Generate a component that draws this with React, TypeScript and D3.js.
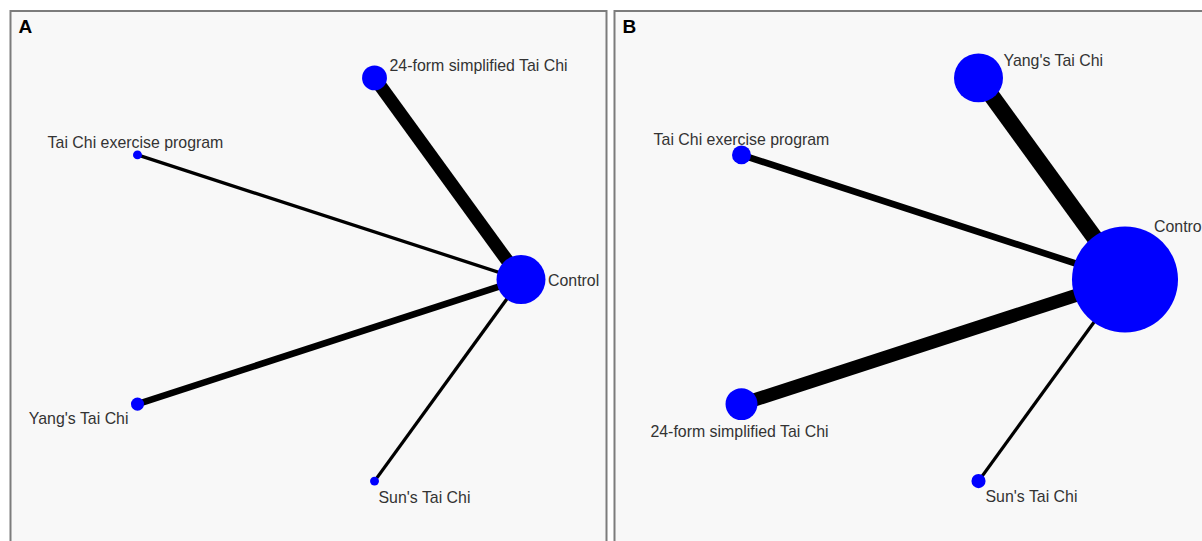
import React from 'react';
import * as d3 from 'd3';

// Network A: treatments in circular order (starting at 3 o'clock, counter-clockwise)
const treatmentsA = [
  'Control',
  '24-form simplified Tai Chi',
  'Tai Chi exercise program',
  "Yang's Tai Chi",
  "Sun's Tai Chi",
];
// Participants per treatment (node area)
const participantsA = [240, 62, 8, 17, 8];
// Direct comparisons and number of studies (edge thickness)
const comparisonsA: [string, string][] = [
  ['Control', '24-form simplified Tai Chi'],
  ['Control', 'Tai Chi exercise program'],
  ['Control', "Yang's Tai Chi"],
  ['Control', "Sun's Tai Chi"],
];
const studiesA = [4, 1, 2, 1];

// Network B
const treatmentsB = [
  'Control',
  "Yang's Tai Chi",
  'Tai Chi exercise program',
  '24-form simplified Tai Chi',
  "Sun's Tai Chi",
];
const participantsB = [1124, 240, 36, 102, 20];
const comparisonsB: [string, string][] = [
  ['Control', "Yang's Tai Chi"],
  ['Control', 'Tai Chi exercise program'],
  ['Control', '24-form simplified Tai Chi'],
  ['Control', "Sun's Tai Chi"],
];
const studiesB = [5, 2, 4, 1];

const panelLetters = ['A', 'B'];

// Label offsets from node centre, per panel
type Place = { dx: number; dy: number; anchor: 'start' | 'middle' | 'end' };
const labelPlacementA: Record<string, Place> = {
  'Control': { dx: 27, dy: 6, anchor: 'start' },
  '24-form simplified Tai Chi': { dx: 15, dy: -7, anchor: 'start' },
  'Tai Chi exercise program': { dx: -2, dy: -7, anchor: 'middle' },
  "Yang's Tai Chi": { dx: -9, dy: 20, anchor: 'end' },
  "Sun's Tai Chi": { dx: 4, dy: 22, anchor: 'start' },
};
const labelPlacementB: Record<string, Place> = {
  'Control': { dx: 29, dy: -48, anchor: 'start' },
  "Yang's Tai Chi": { dx: 25, dy: -12, anchor: 'start' },
  'Tai Chi exercise program': { dx: 0, dy: -10, anchor: 'middle' },
  '24-form simplified Tai Chi': { dx: -2, dy: 33, anchor: 'middle' },
  "Sun's Tai Chi": { dx: 7, dy: 21, anchor: 'start' },
};

const W = 1202;
const H = 541;
const FONT = '"Liberation Sans", Arial, Helvetica, sans-serif';

const radius = d3.scaleSqrt().domain([0, 1124]).range([0, 53]);
const thickness = d3.scaleLinear().domain([0, 1]).range([0, 3.3]);

type PanelProps = {
  x0: number;
  letter: string;
  treatments: string[];
  participants: number[];
  comparisons: [string, string][];
  studies: number[];
  placement: Record<string, Place>;
};

function NetworkPanel({ x0, letter, treatments, participants, comparisons, studies, placement }: PanelProps) {
  const panelW = 596;
  const panelH = 540;
  const top = 11;
  const cx = x0 + panelW / 2 + 0.5;
  const cy = 279.5;
  const R = 212;
  const xs = d3.scaleLinear().domain([-1, 1]).range([cx - R, cx + R]);
  const ys = d3.scaleLinear().domain([-1, 1]).range([cy + R, cy - R]);
  const n = treatments.length;
  const pos = new Map<string, [number, number]>();
  treatments.forEach((t, i) => {
    const a = (2 * Math.PI * i) / n;
    pos.set(t, [xs(Math.cos(a)), ys(Math.sin(a))]);
  });

  return (
    <g>
      <rect x={x0} y={top} width={panelW} height={panelH} fill="#f8f8f8" stroke="#7c7c7c" strokeWidth={2} />
      <text x={x0 + 8} y={top + 22} fontFamily={FONT} fontWeight="bold" fontSize={19} fill="#000">
        {letter}
      </text>
      {comparisons.map(([a, b], i) => {
        const p = pos.get(a)!;
        const q = pos.get(b)!;
        return (
          <line key={i} x1={p[0]} y1={p[1]} x2={q[0]} y2={q[1]} stroke="#000" strokeWidth={thickness(studies[i])} />
        );
      })}
      {treatments.map((t, i) => {
        const p = pos.get(t)!;
        return <circle key={t} cx={p[0]} cy={p[1]} r={radius(participants[i])} fill="#0000ff" />;
      })}
      {treatments.map((t) => {
        const p = pos.get(t)!;
        const pl = placement[t];
        return (
          <text
            key={'l' + t}
            x={p[0] + pl.dx}
            y={p[1] + pl.dy}
            textAnchor={pl.anchor}
            fontFamily={FONT}
            fontSize={15.9}
            fill="#333"
          >
            {t}
          </text>
        );
      })}
    </g>
  );
}

export default function App() {
  return (
    <svg
      width={W}
      height={H}
      viewBox={`0 0 ${W} ${H}`}
      style={{ position: 'absolute', left: 0, top: 0, display: 'block', background: '#fff' }}
    >
      <NetworkPanel
        x0={10.5}
        letter={panelLetters[0]}
        treatments={treatmentsA}
        participants={participantsA}
        comparisons={comparisonsA}
        studies={studiesA}
        placement={labelPlacementA}
      />
      <NetworkPanel
        x0={614.5}
        letter={panelLetters[1]}
        treatments={treatmentsB}
        participants={participantsB}
        comparisons={comparisonsB}
        studies={studiesB}
        placement={labelPlacementB}
      />
    </svg>
  );
}
